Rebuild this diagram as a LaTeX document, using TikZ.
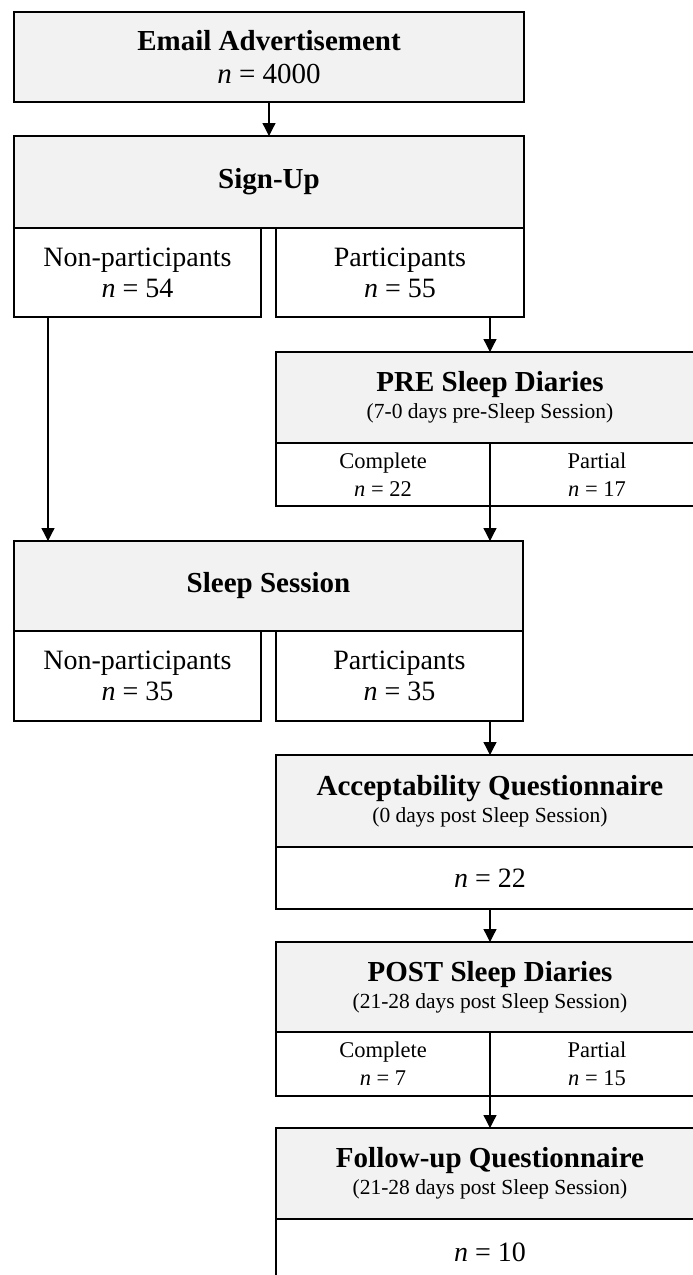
\documentclass[tikz,border=0pt]{standalone}
\usepackage{fontspec}
\setmainfont{Liberation Serif}
\usetikzlibrary{arrows.meta}
\definecolor{boxgray}{HTML}{F2F2F2}
\newcommand{\nval}[1]{\textit{n} = #1}
\newcommand{\when}[1]{{\fontsize{21.5}{26}\selectfont #1}}

\begin{document}
\begin{tikzpicture}[x=1pt,y=-1pt]
\tikzstyle{head}=[rectangle, draw=black, line width=2pt, fill=boxgray, inner sep=0pt, outer sep=0pt, align=center, font=\fontsize{29}{30}\selectfont]
\tikzstyle{cell}=[rectangle, draw=black, line width=2pt, fill=white, inner sep=0pt, outer sep=0pt, align=center, font=\fontsize{28}{31}\selectfont]
\tikzstyle{subcell}=[cell, font=\fontsize{22.5}{28}\selectfont]
\tikzstyle{flow}=[-{Triangle[width=13pt,length=13pt]}, line width=1.3pt]

\useasboundingbox (0,0) rectangle (693,1275);
\clip (0,0) rectangle (693,1275);

% Email advertisement
\node[head, minimum width=510pt, minimum height=90pt] (email) at (269,57)
  {\textbf{Email Advertisement}\\[3pt] \nval{4000}};

% Sign-up
\node[head, minimum width=510pt, minimum height=92pt] (signup) at (269,182) {\textbf{Sign-Up}};
\node[cell, minimum width=247pt, minimum height=89pt] (su_non) at (137.5,272.5)
  {Non-participants\\ \nval{54}};
\node[cell, minimum width=248pt, minimum height=89pt] (su_par) at (400,272.5)
  {Participants\\ \nval{55}};

% PRE sleep diaries
\node[head, minimum width=428pt, minimum height=91pt] (pre) at (490,397.5)
  {\textbf{PRE Sleep Diaries}\\[-3pt] \when{(7-0 days pre-Sleep Session)}};
\node[subcell, minimum width=214pt, minimum height=63pt] (pre_c) at (383,474.5)
  {Complete\\ \nval{22}};
\node[subcell, minimum width=214pt, minimum height=63pt] (pre_p) at (597,474.5)
  {Partial\\ \nval{17}};

% Sleep session
\node[head, minimum width=509pt, minimum height=90pt] (sleep) at (268.5,586) {\textbf{Sleep Session}};
\node[cell, minimum width=247pt, minimum height=90pt] (sl_non) at (137.5,676)
  {Non-participants\\ \nval{35}};
\node[cell, minimum width=247pt, minimum height=90pt] (sl_par) at (399.5,676)
  {Participants\\ \nval{35}};

% Acceptability questionnaire
\node[head, minimum width=428pt, minimum height=92pt] (acc) at (490,801)
  {\textbf{Acceptability Questionnaire}\\[-3pt] \when{(0 days post Sleep Session)}};
\node[cell, minimum width=428pt, minimum height=62pt] (acc_n) at (490,878) {\nval{22}};

% POST sleep diaries
\node[head, minimum width=428pt, minimum height=90pt] (post) at (490,987)
  {\textbf{POST Sleep Diaries}\\[-3pt] \when{(21-28 days post Sleep Session)}};
\node[subcell, minimum width=214pt, minimum height=64pt] (post_c) at (383,1064)
  {Complete\\ \nval{7}};
\node[subcell, minimum width=214pt, minimum height=64pt] (post_p) at (597,1064)
  {Partial\\ \nval{15}};

% Follow-up questionnaire
\node[head, minimum width=428pt, minimum height=91pt] (fu) at (490,1173.5)
  {\textbf{Follow-up Questionnaire}\\[-3pt] \when{(21-28 days post Sleep Session)}};
\node[cell, minimum width=428pt, minimum height=66pt] (fu_n) at (490,1252) {\nval{10}};

% Connect boxes
\coordinate (nonx) at (48,0);
\draw[flow] (email) -- (signup);
\draw[flow] (su_non.south -| nonx) -- (sleep.north -| nonx);
\draw[flow] (su_par.south -| pre.north) -- (pre.north);
\draw[flow] (pre_c.south east) -- (pre_c.south east |- sleep.north);
\draw[flow] (sl_par.south -| acc.north) -- (acc.north);
\draw[flow] (acc_n) -- (post);
\draw[flow] (post_c.south east) -- (post_c.south east |- fu.north);
\end{tikzpicture}
\end{document}
